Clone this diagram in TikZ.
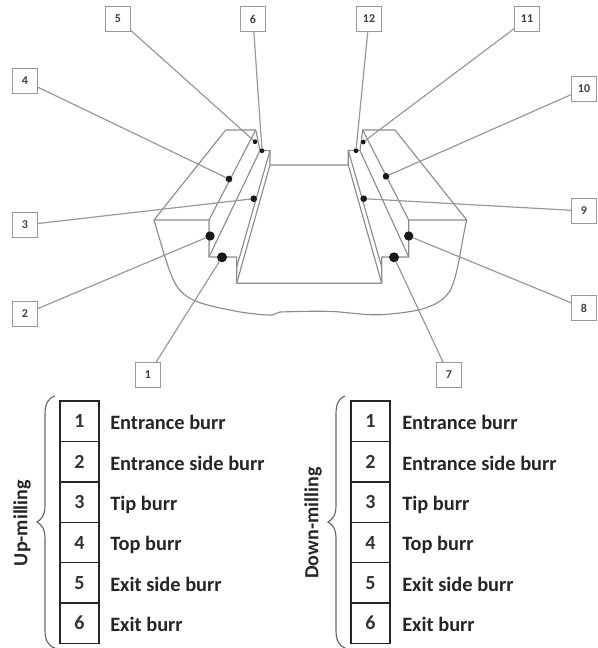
\documentclass[tikz,border=0pt]{standalone}
\usepackage{fontspec}
\setmainfont{Carlito}
\tikzset{
  part/.style={draw=black!45,line width=0.85pt,line join=round},
  lead/.style={draw=black!40,line width=0.9pt},
  tag/.style={draw=black!40,line width=1.1pt,fill=white,minimum size=18.5pt,inner sep=0pt,font=\bfseries\fontsize{9}{10}\selectfont,text=black!75},
  dot/.style={circle,fill=black!90,inner sep=0pt,minimum size=#1},
  numcell/.style={draw=black!85,line width=1.1pt,minimum width=29pt,minimum height=30.3pt,inner sep=0pt,text height=10pt,text depth=-0.6pt,font=\bfseries\fontsize{15}{16}\selectfont,text=black!80},
  burr/.style={anchor=base west,inner sep=0pt,font=\bfseries\fontsize{15.3}{17}\selectfont,text=black!85},
  mode/.style={rotate=90,inner sep=0pt,font=\bfseries\fontsize{15}{17}\selectfont,text=black!85},
  bracket/.style={draw=black!60,line width=0.85pt}
}
\begin{document}
\begin{tikzpicture}[x=0.75pt,y=-0.75pt]
\useasboundingbox (0,0) rectangle (598,648);
% workpiece
\draw[part] (209,220) -- (154,220) -- (225.7,130) -- (255.7,130) -- (209,220);
\draw[part] (209,220) -- (209,257) -- (236.7,257) -- (236.7,283.3) -- (381.7,283.3) -- (381.7,257) -- (408.7,257) -- (408.7,220) -- (466.7,220) -- (395,130) -- (362.7,130) -- (408.7,220);
\draw[part] (255.7,130) -- (260,150.5) -- (209,257);
\draw[part] (260,150.5) -- (270,150.5) -- (270,165) -- (348.3,165) -- (348.3,150.5) -- (360,150.5) -- (408.7,257);
\draw[part] (362.7,130) -- (360,150.5);
\draw[part] (270,150.5) -- (236.7,267);
\draw[part] (270,165) -- (236.7,283.3);
\draw[part] (348.3,150.5) -- (381.7,267);
\draw[part] (348.3,165) -- (381.7,283.3);
\draw[part] (154,220) .. controls (163,250) and (168,270) .. (175,283) .. controls (185,302) and (205,305) .. (240,312) .. controls (255,314) and (262,315) .. (272,315) -- (280,312) .. controls (310,311) and (330,311) .. (340,312) .. controls (360,314) and (375,316) .. (390,314) .. controls (425,311) and (440,305) .. (450,291) .. controls (458,275) and (460,250) .. (466.7,220);
% burr points
\node[dot=7.5pt] (d1) at (222,257.3) {};
\node[dot=7pt] (d2) at (210,236) {};
\node[dot=5pt] (d3) at (253.7,198.7) {};
\node[dot=5pt] (d4) at (229,179) {};
\node[dot=3.6pt] (d5) at (255,141.7) {};
\node[dot=3.6pt] (d6) at (262,150.7) {};
\node[dot=7.5pt] (d7) at (394,257.3) {};
\node[dot=7pt] (d8) at (408.7,236) {};
\node[dot=5pt] (d9) at (363.7,198.7) {};
\node[dot=5pt] (d10) at (386,176.3) {};
\node[dot=3.6pt] (d11) at (363.3,142) {};
\node[dot=3.6pt] (d12) at (356,150.7) {};
% tags
\node[tag] (t1) at (148,375) {1};
\node[tag] (t2) at (25,314) {2};
\node[tag] (t3) at (25,225) {3};
\node[tag] (t4) at (25,81) {4};
\node[tag] (t5) at (118,19) {5};
\node[tag] (t6) at (253,19) {6};
\node[tag] (t7) at (449,375) {7};
\node[tag] (t8) at (584,308) {8};
\node[tag] (t9) at (584,211) {9};
\node[tag] (t10) at (584,89) {10};
\node[tag] (t11) at (527,19) {11};
\node[tag] (t12) at (369,19) {12};
\foreach \i in {1,...,12} \draw[lead] (t\i) -- (d\i);
% keys
\foreach \side/\cx/\tx in {a/79.5/110,b/370.5/402} {
  \node[numcell] (\side1) at (\cx,421.3) {1};
  \node[numcell] (\side2) at (\cx,461.7) {2};
  \node[numcell] (\side3) at (\cx,502.1) {3};
  \node[numcell] (\side4) at (\cx,542.5) {4};
  \node[numcell] (\side5) at (\cx,582.9) {5};
  \node[numcell] (\side6) at (\cx,623.3) {6};
  \node[burr] at (\tx,429) {Entrance burr};
  \node[burr] at (\tx,470) {Entrance side burr};
  \node[burr] at (\tx,510) {Tip burr};
  \node[burr] at (\tx,550) {Top burr};
  \node[burr] at (\tx,591) {Exit side burr};
  \node[burr] at (\tx,631) {Exit burr};
}
\node[mode] at (22,523) {Up-milling};
\node[mode] at (313,523) {Down-milling};
% braces
\draw[bracket] (55,396) .. controls (48,398) and (45,404) .. (45,414) -- (45,505) .. controls (45,515) and (42,519) .. (37,522) .. controls (42,525) and (45,529) .. (45,539) -- (45,630) .. controls (45,640) and (48,646) .. (55,648);
\draw[bracket] (345,396) .. controls (339,398) and (336,404) .. (336,414) -- (336,505) .. controls (336,515) and (333,519) .. (328,522) .. controls (333,525) and (336,529) .. (336,539) -- (336,630) .. controls (336,640) and (339,646) .. (345,648);
\end{tikzpicture}
\end{document}
